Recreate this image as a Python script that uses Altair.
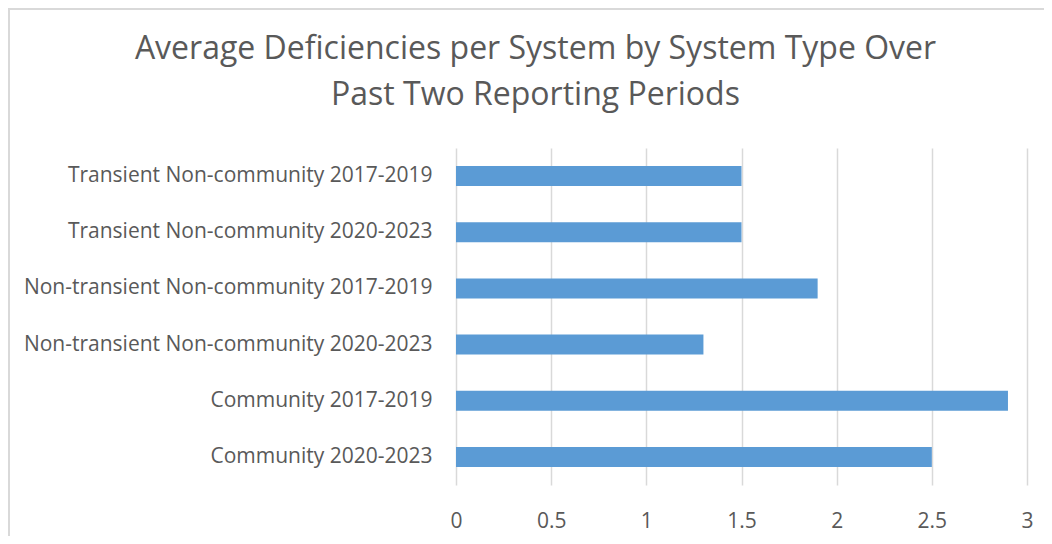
import altair as alt
import pandas as pd

categories = [
    "Transient Non-community 2017-2019",
    "Transient Non-community 2020-2023",
    "Non-transient Non-community 2017-2019",
    "Non-transient Non-community 2020-2023",
    "Community 2017-2019",
    "Community 2020-2023",
]
values = [1.5, 1.5, 1.9, 1.3, 2.9, 2.5]
x_ticks = [0, 0.5, 1, 1.5, 2, 2.5, 3]

df = pd.DataFrame({"category": categories, "value": values})

FONT = "Open Sans"
GREY = "#595959"

bars = alt.Chart(df).mark_bar(color="#5b9bd5", size=20).encode(
    y=alt.Y("category:N", sort=categories, title=None,
            axis=alt.Axis(labelFontSize=21, labelColor=GREY, labelFont=FONT,
                          labelPadding=24, ticks=False, domain=False, grid=False,
                          labelLimit=500)),
    x=alt.X("value:Q", title=None,
            scale=alt.Scale(domain=[0, 3], nice=False),
            axis=alt.Axis(values=x_ticks, labelExpr="datum.value + ''",
                          labelFontSize=21, labelColor=GREY,
                          labelFont=FONT, labelPadding=25, ticks=False,
                          domain=False, grid=True, gridColor="#d9d9d9",
                          gridWidth=1.5, labelFlush=False)),
)

border = alt.Chart(df).mark_rect(fill=None, stroke="#d9d9d9", strokeWidth=1.5).encode(
    x=alt.value(-447), x2=alt.value(700), y=alt.value(-139), y2=alt.value(460)
)

chart = alt.layer(border, bars).properties(
    width=571,
    height=337,
    padding={"left": 448, "top": 140, "right": 17, "bottom": 51},
    autosize=alt.AutoSizeParams(type="none"),
    title=alt.TitleParams(
        ["Average Deficiencies per System by System Type Over", "Past Two Reporting Periods"],
        fontSize=32, font=FONT, fontWeight=400, color=GREY, anchor="middle",
        lineHeight=46, offset=-104, dx=-206,
    ),
).configure_view(stroke=None)

chart.save("out.html", embed_options={"renderer": "svg", "actions": False})
